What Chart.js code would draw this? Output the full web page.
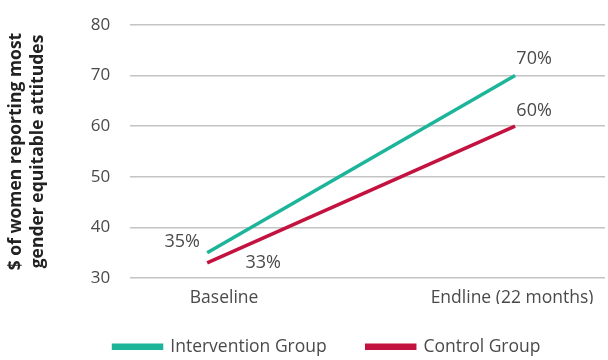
<!DOCTYPE html>
<html>
<head>
<meta charset="utf-8">
<script src="https://cdn.jsdelivr.net/npm/chart.js@4"></script>
<style>
  html, body { margin: 0; padding: 0; background: #fff; }
  #wrap { width: 608px; height: 360px; }
</style>
</head>
<body>
<div id="wrap"><canvas id="chart"></canvas></div>
<script>
const categories = ["Baseline", "Endline (22 months)"];
const interventionValues = [35, 70];
const controlValues = [33, 60];
const yTicks = [30, 40, 50, 60, 70, 80];

// little inline plugin for the % labels next to each point
const pointLabels = {
  id: "pointLabels",
  afterDatasetsDraw(chart, args, opts) {
    const ctx = chart.ctx;
    ctx.save();
    ctx.font = "18px 'Open Sans'";
    ctx.fillStyle = "#4a4a4a";
    ctx.textAlign = "center";
    ctx.textBaseline = "middle";
    chart.data.datasets.forEach((ds, di) => {
      const meta = chart.getDatasetMeta(di);
      meta.data.forEach((pt, i) => {
        const off = opts.offsets[di][i];
        ctx.fillText(ds.data[i].y + "%", pt.x + off[0], pt.y + off[1]);
      });
    });
    ctx.restore();
  }
};

// legend sits a bit right of centre and closer to the axis in the original
const legendShift = {
  id: "legendShift",
  afterLayout(chart, args, opts) {
    chart.legend.left += opts.dx;
    chart.legend.top += opts.dy;
  }
};

const toPoints = vals => vals.map((v, i) => ({ x: i, y: v }));

new Chart(document.getElementById("chart"), {
  type: "line",
  data: {
    datasets: [
      {
        label: "Intervention Group",
        data: toPoints(interventionValues),
        borderColor: "#1db59a",
        backgroundColor: "#1db59a",
        borderWidth: 3.5,
        pointRadius: 0
      },
      {
        label: "Control Group",
        data: toPoints(controlValues),
        borderColor: "#c3123f",
        backgroundColor: "#c3123f",
        borderWidth: 3.5,
        pointRadius: 0
      }
    ]
  },
  options: {
    responsive: true,
    maintainAspectRatio: false,
    animation: false,
    layout: { padding: { top: 3, left: 5, right: 3, bottom: 0 } },
    scales: {
      x: {
        type: "linear",
        min: -0.25,
        max: 1.292,
        grid: { display: false },
        border: { display: false },
        afterBuildTicks: scale => {
          scale.ticks = [{ value: 0.055 }, { value: 0.99 }];
        },
        afterFit: scale => { scale.height = 26; },
        ticks: {
          color: "#4a4a4a",
          font: { family: "Open Sans", size: 17.5 },
          padding: 2,
          maxRotation: 0,
          callback: (v, i) => categories[i]
        }
      },
      y: {
        min: 30,
        max: 80,
        afterBuildTicks: scale => {
          scale.ticks = yTicks.map(v => ({ value: v }));
        },
        afterFit: scale => { scale.paddingTop = 25; },
        grid: { color: "#c4c4c4", lineWidth: 1.5, drawTicks: false },
        border: { display: false },
        ticks: {
          color: "#4a4a4a",
          font: { family: "Open Sans", size: 17 },
          padding: 20
        },
        title: {
          display: true,
          text: ["$ of women reporting most", "gender equitable attitudes"],
          color: "#222",
          font: { family: "Open Sans", size: 17.5, weight: "bold", lineHeight: 1.25 },
          padding: { top: 0, bottom: 22 }
        }
      }
    },
    plugins: {
      legend: {
        position: "bottom",
        maxHeight: 56,
        labels: {
          boxWidth: 48,
          boxHeight: 3,
          padding: 40,
          color: "#4a4a4a",
          font: { family: "Open Sans", size: 17.5 }
        }
      },
      legendShift: { dx: 44, dy: -6 },
      tooltip: { enabled: false },
      pointLabels: {
        offsets: [[[-25, -11], [19, -17]], [[56, 0], [19, -15]]]
      }
    }
  },
  plugins: [pointLabels, legendShift]
});
</script>
</body>
</html>
